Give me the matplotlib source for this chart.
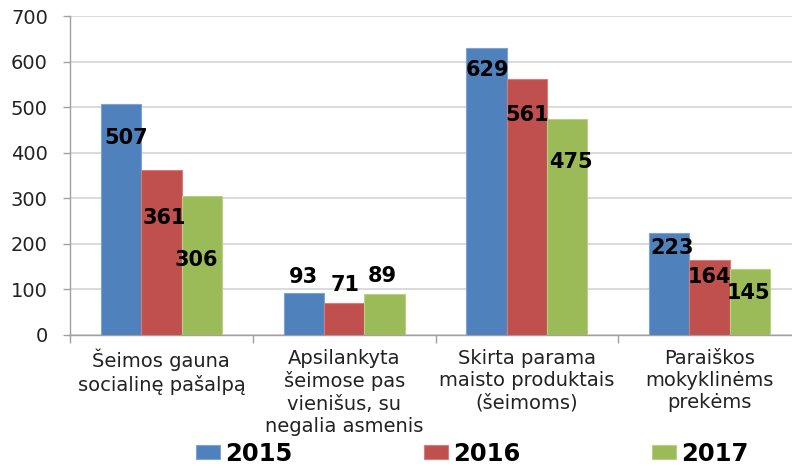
import matplotlib
matplotlib.use("Agg")
import matplotlib.pyplot as plt
import numpy as np

categories = ["Šeimos gauna\nsocialinę pašalpą",
              "Apsilankyta\nšeimose pas\nvienišus, su\nnegalia asmenis",
              "Skirta parama\nmaisto produktais\n(šeimoms)",
              "Paraiškos\nmokyklinėms\nprekėms"]
years = ["2015", "2016", "2017"]
v2015 = [507, 93, 629, 223]
v2016 = [361, 71, 561, 164]
v2017 = [306, 89, 475, 145]
yticks = [0, 100, 200, 300, 400, 500, 600, 700]

colors = ["#4F81BD", "#C0504D", "#9BBB59"]
edge_colors = ["#7FA3D3", "#D47E7C", "#B7D084"]
# label placement (vertical offset in px from bar top, horizontal offset in px)
label_dy = [[-34, -48, -64], [16, 18, 18], [-22, -36, -43], [-15, -17, -24]]
label_dx = [[5, 3, -5], [0, 1, -2], [1, 0, 4], [3, 0, -2]]

fig = plt.figure(figsize=(7.92, 4.68), dpi=100)
ax = fig.add_axes([70/792, (468-335)/468, 731/792, 319/468])

series = [v2015, v2016, v2017]
x = np.arange(len(categories))
w = 0.221
for i, (vals, c, ec) in enumerate(zip(series, colors, edge_colors)):
    xs = x + (i - 1) * w
    ax.bar(xs, vals, width=w, color=c, edgecolor=ec, linewidth=0.8,
           label=years[i], zorder=3)
    for j, v in enumerate(vals):
        ax.annotate(str(v), (xs[j], v),
                    xytext=(label_dx[j][i] * 0.72, label_dy[j][i] * 0.72),
                    textcoords="offset points", ha="center", va="center",
                    fontsize=15, fontweight="bold", color="black", zorder=5)

ax.set_xlim(-0.5, 3.5)
ax.set_ylim(0, 700)
ax.set_yticks(yticks)
ax.set_yticklabels([str(t) for t in yticks], fontsize=14, color="#222222")
ax.yaxis.grid(True, color="#D4D4D4", linewidth=1.2, zorder=0)
ax.set_axisbelow(True)

ax.set_xticks(x)
ax.set_xticklabels(categories, fontsize=14, color="#222222", linespacing=1.22)
ax.tick_params(axis="x", length=0, pad=10)
ax.set_xticks(np.arange(-0.5, 4.0, 1.0), minor=True)
ax.tick_params(axis="x", which="minor", length=6, color="#A0A0A0", width=1)
ax.tick_params(axis="y", length=5, color="#A0A0A0", width=1, pad=11)

for s in ["top", "right"]:
    ax.spines[s].set_visible(False)
for s in ["left", "bottom"]:
    ax.spines[s].set_color("#A0A0A0")
    ax.spines[s].set_linewidth(1)

leg = fig.legend(loc="center", bbox_to_anchor=(472/792, 1 - 454/468), ncol=3,
                 frameon=False, prop={"size": 17.5, "weight": "bold"},
                 handlelength=1.0, handleheight=0.52, handletextpad=0.2,
                 columnspacing=5.4, borderpad=0.2)

fig.savefig("out.png", dpi=100)
